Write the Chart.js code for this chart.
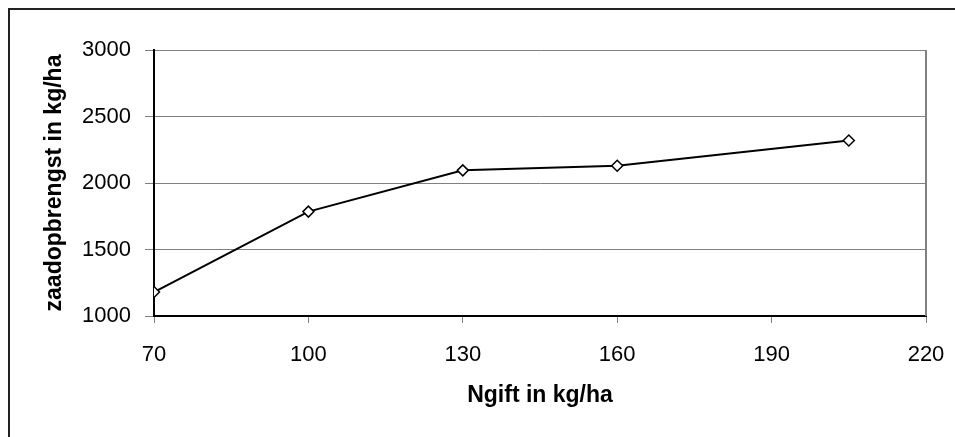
<!DOCTYPE html>
<html>
<head>
<meta charset="utf-8">
<script src="https://cdn.jsdelivr.net/npm/chart.js@4"></script>
<style>
  body { margin: 0; background: #fff; }
  canvas { display: block; }
</style>
</head>
<body>
<canvas id="yieldChart" width="955" height="437"></canvas>
<script>
const nGift = [70, 100, 130, 160, 205]
const seedYield = [1180, 1785, 2095, 2130, 2320]
const xTicks = [70, 100, 130, 160, 190, 220]
const yTicks = [1000, 1500, 2000, 2500, 3000]

const FONT = "'Liberation Sans', Arial, sans-serif"

// outer frame like the spreadsheet chart object
const framePlugin = {
    id: 'frame',
    beforeDraw(chart) {
        const c = chart.ctx
        c.save()
        c.fillStyle = '#fff'
        c.fillRect(0, 0, chart.width, chart.height)
        c.strokeStyle = '#222'
        c.lineWidth = 2
        c.beginPath()
        c.moveTo(9, chart.height)
        c.lineTo(9, 9)
        c.lineTo(chart.width, 9)
        c.stroke()
        c.restore()
    },
    beforeDatasetsDraw(chart) {
        // grey right edge of the plot area
        const { ctx: c, chartArea: a } = chart
        c.save()
        c.strokeStyle = '#808080'
        c.lineWidth = 2
        c.beginPath()
        c.moveTo(a.right, a.top)
        c.lineTo(a.right, a.bottom)
        c.stroke()
        c.restore()
    },
}

const ctx = document.querySelector('#yieldChart').getContext('2d')

const yieldChart = new Chart(ctx, {
    type: 'line',
    data: {
        datasets: [
            {
                label: 'zaadopbrengst',
                data: nGift.map((x, i) => ({ x: x, y: seedYield[i] })),
                borderColor: '#000',
                borderWidth: 2,
                fill: false,
                tension: 0,
                pointStyle: 'rectRot',
                pointRadius: 5.5,
                pointBorderWidth: 1.5,
                pointBackgroundColor: '#fff',
                pointBorderColor: '#000',
            },
        ],
    },
    options: {
        responsive: false,
        animation: false,
        layout: { padding: { top: 50, right: 29, bottom: 0, left: 0 } },
        plugins: {
            legend: { display: false },
            tooltip: { enabled: false },
        },
        scales: {
            x: {
                type: 'linear',
                min: xTicks[0],
                max: xTicks[xTicks.length - 1],
                afterBuildTicks: (scale) => { scale.ticks = xTicks.map(v => ({ value: v })) },
                afterFit: (scale) => {
                    scale.height = 121
                    scale.paddingLeft = 0
                    scale.paddingRight = 0
                },
                grid: { drawOnChartArea: false, tickLength: 7, color: '#808080', lineWidth: 1 },
                border: { color: '#000', width: 2 },
                ticks: {
                    color: '#000',
                    padding: 19,
                    font: { family: FONT, size: 22 },
                    callback: (v) => String(v),
                },
                title: {
                    display: true,
                    text: 'Ngift in kg/ha',
                    color: '#000',
                    padding: { top: 0, bottom: 28 },
                    font: { family: FONT, size: 23, weight: 'bold' },
                },
            },
            y: {
                min: yTicks[0],
                max: yTicks[yTicks.length - 1],
                afterBuildTicks: (scale) => { scale.ticks = yTicks.map(v => ({ value: v })) },
                afterFit: (scale) => {
                    scale.width = 154
                    scale.paddingTop = 0
                    scale.paddingBottom = 0
                },
                grid: { tickLength: 9, color: '#808080', lineWidth: 1 },
                border: { color: '#000', width: 2 },
                ticks: {
                    color: '#000',
                    padding: 14,
                    font: { family: FONT, size: 22 },
                    callback: (v) => String(v),
                },
                title: {
                    display: true,
                    text: 'zaadopbrengst in kg/ha',
                    color: '#000',
                    padding: { top: 41, bottom: 0 },
                    font: { family: FONT, size: 23, weight: 'bold' },
                },
            },
        },
    },
    plugins: [framePlugin],
})
</script>
</body>
</html>
